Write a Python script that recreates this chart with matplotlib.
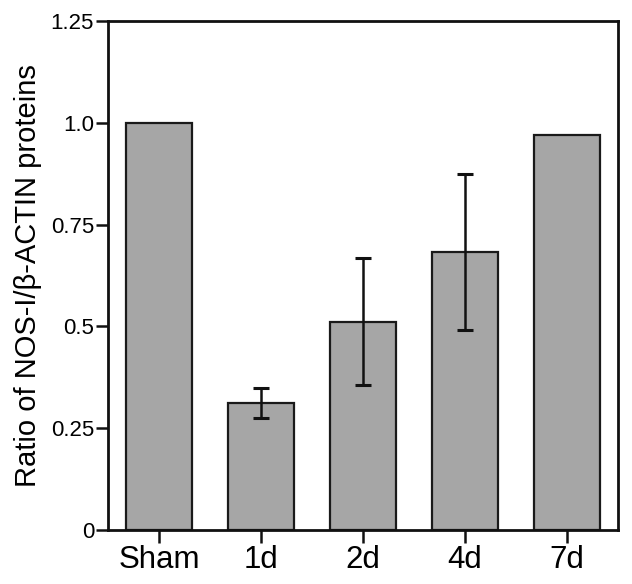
import matplotlib
matplotlib.use("Agg")
import matplotlib.pyplot as plt

categories = ["Sham", "1d", "2d", "4d", "7d"]
values = [1.0, 0.311, 0.512, 0.682, 0.969]
errors = [0.0, 0.037, 0.157, 0.192, 0.0]
yticks = [0, 0.25, 0.5, 0.75, 1.0, 1.25]
ytick_labels = ["0", "0.25", "0.5", "0.75", "1.0", "1.25"]

plt.rcParams['font.family'] = ['Liberation Sans', 'DejaVu Sans']

fig = plt.figure(figsize=(6.32, 5.84), dpi=100)
ax = fig.add_axes([108/632, 1-530/584, (618-108)/632, (530-21)/584])

x = list(range(len(categories)))
ax.bar(x, values, width=0.65, color="#a6a6a6", edgecolor="#1a1a1a", linewidth=1.6, zorder=2)
for xi, v, e in zip(x, values, errors):
    if e > 0:
        ax.errorbar([xi], [v], yerr=[e], fmt="none", ecolor="#111111",
                    elinewidth=1.8, capsize=6, capthick=2.2, zorder=3)

ax.set_xlim(-0.5, 4.5)
ax.set_ylim(0, 1.25)
ax.set_yticks(yticks)
ax.set_yticklabels(ytick_labels, fontsize=16)
ax.set_xticks(x)
ax.set_xticklabels(categories, fontsize=22.5)
for s in ax.spines.values():
    s.set_linewidth(2.0)
    s.set_color("#111111")
ax.tick_params(axis="both", direction="out", length=9, width=1.8, color="#111111")
ax.tick_params(axis="y", pad=1)
ax.tick_params(axis="x", pad=2)
ax.set_ylabel("Ratio of NOS-I/β-ACTIN proteins", fontsize=21, labelpad=6)

fig.savefig("out.png", dpi=100)
